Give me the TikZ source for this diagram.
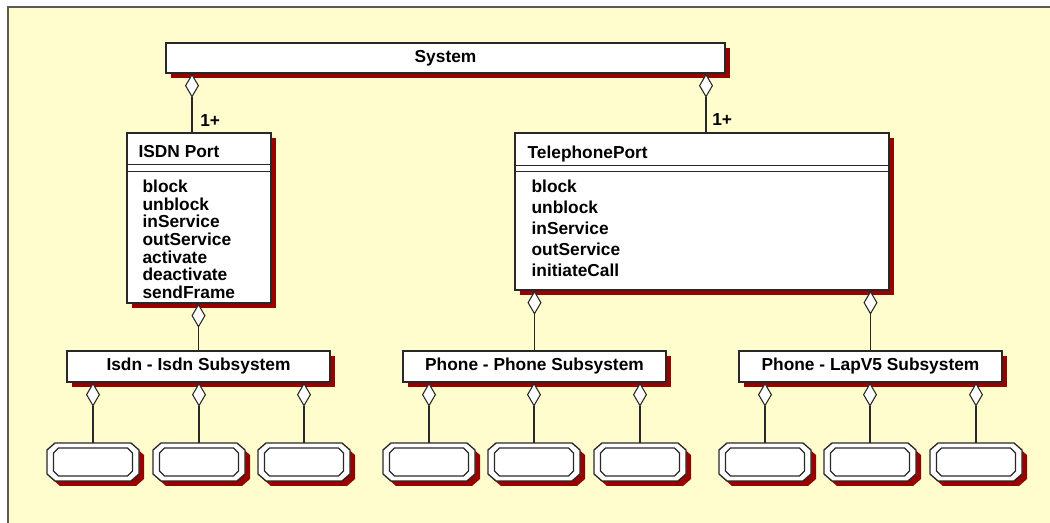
\documentclass[tikz,border=0pt]{standalone}
\usepackage{fontspec}
\setmainfont{Liberation Sans}
\usetikzlibrary{arrows.meta,shadows,calc}
\definecolor{pagebg}{RGB}{255,252,205}
\definecolor{shadowred}{RGB}{153,0,0}
\definecolor{edge}{RGB}{40,40,40}
\definecolor{frame}{RGB}{90,90,82}

% chamfered object box with a double outline and a red shadow
\newcommand\octagonbox[3]{%
  \begin{scope}[shift={(#2,#3)}]
    \fill[shadowred,shift={(5,5)}] (-38,-19) -- (38,-19) -- (46,-12) -- (46,12) -- (38,19) -- (-38,19) -- (-46,12) -- (-46,-12) -- cycle;
    \draw[edge,line width=1pt,fill=white] (-38,-19) -- (38,-19) -- (46,-12) -- (46,12) -- (38,19) -- (-38,19) -- (-46,12) -- (-46,-12) -- cycle;
    \draw[edge,line width=1pt] (-34.5,-14) -- (34.5,-14) -- (39.5,-9) -- (39.5,9) -- (34.5,14) -- (-34.5,14) -- (-39.5,9) -- (-39.5,-9) -- cycle;
  \end{scope}
  \node[inner sep=0pt, minimum width=69pt, minimum height=28.5pt] (#1) at (#2,#3) {};
}

\begin{document}
\begin{tikzpicture}[x=0.75pt,y=-0.75pt,
  font=\fontsize{13pt}{15pt}\selectfont\bfseries,
  box/.style={draw=edge, line width=1pt, fill=white, inner sep=0pt,
    drop shadow={shadow xshift=3.75pt, shadow yshift=-3.75pt, fill=shadowred, opacity=1}},
  subbox/.style={box, minimum width=197.25pt, minimum height=23.25pt},
  sepline/.style={draw=edge, line width=0.9pt},
  agg/.style={draw=edge, line width=0.8pt,
    arrows={Diamond[fill=white,length=18pt,width=10.5pt]-}},
  lbl/.style={anchor=base west, inner sep=0pt}]

\useasboundingbox (0,0) rectangle (1050,523);
\fill[pagebg] (7,7) rectangle (1070,540);
\draw[frame, line width=1.5pt] (7.5,540) -- (7.5,7.5) -- (1070,7.5);

% top level class
\node[box, minimum width=419.25pt, minimum height=22.5pt] (sys) at (445.5,58) {System};

% ISDN port class
\node[box, minimum width=108pt, minimum height=127.5pt] (isdn) at (199,218) {};
\draw[sepline] ($(isdn.north west)+(0,32)$) -- ($(isdn.north east)+(0,32)$);
\draw[sepline] ($(isdn.north west)+(0,39)$) -- ($(isdn.north east)+(0,39)$);
\node[lbl] (isdnTitle) at ($(isdn.north west)+(12,25)$) {ISDN Port};
\foreach \t [count=\i from 0] in {block,unblock,inService,outService,activate,deactivate,sendFrame}
  \node[lbl] (isdnop\i) at ($(isdn.north west)+(16,60+17.7*\i)$) {\t};

% telephone port class
\node[box, minimum width=280.5pt, minimum height=117.75pt] (tel) at (702,211.5) {};
\draw[sepline] ($(tel.north west)+(0,33)$) -- ($(tel.north east)+(0,33)$);
\draw[sepline] ($(tel.north west)+(0,39)$) -- ($(tel.north east)+(0,39)$);
\node[lbl] (telTitle) at ($(tel.north west)+(13,26)$) {TelephonePort};
\foreach \t [count=\i from 0] in {block,unblock,inService,outService,initiateCall}
  \node[lbl] (telop\i) at ($(tel.north west)+(17,60+21*\i)$) {\t};

% subsystems
\node[subbox] (isdnsub) at (198.5,366.5) {Isdn - Isdn Subsystem};
\node[subbox] (phonesub) at (534.5,366.5) {Phone - Phone Subsystem};
\node[subbox] (lapsub) at (870.5,366.5) {Phone - LapV5 Subsystem};

% objects of each subsystem
\octagonbox{ia}{93}{462}
\octagonbox{ib}{199}{462}
\octagonbox{ic}{304}{462}
\octagonbox{pa}{429}{462}
\octagonbox{pb}{534}{462}
\octagonbox{pc}{640}{462}
\octagonbox{la}{765}{462}
\octagonbox{lb}{870}{462}
\octagonbox{lc}{976}{462}

% aggregations
\coordinate (isdnIn) at ($(isdn.north)+(-7,0)$);
\coordinate (telIn) at ($(tel.north)+(4,0)$);
\draw[agg] (isdnIn |- sys.south) -- (isdnIn);
\draw[agg] (telIn |- sys.south) -- (telIn);
\node[lbl] (mIsdn) at (200,127) {1+};
\node[lbl] (mTel) at (712,126) {1+};

\draw[agg] (isdnsub.north |- isdn.south) -- (isdnsub.north);
\draw[agg] (phonesub.north |- tel.south) -- (phonesub.north);
\draw[agg] (lapsub.north |- tel.south) -- (lapsub.north);

\foreach \s/\a/\b/\c in {isdnsub/ia/ib/ic, phonesub/pa/pb/pc, lapsub/la/lb/lc} {
  \draw[agg] (\a.north |- \s.south) -- (\a.north);
  \draw[agg] (\b.north |- \s.south) -- (\b.north);
  \draw[agg] (\c.north |- \s.south) -- (\c.north);
}
\end{tikzpicture}
\end{document}
